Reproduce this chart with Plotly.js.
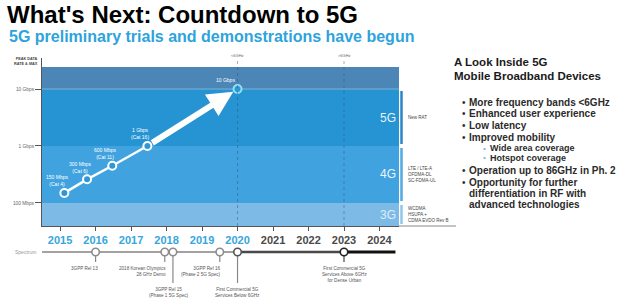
<!DOCTYPE html>
<html><head><meta charset="utf-8">
<script src="https://cdn.plot.ly/plotly-3.0.1.min.js"></script>
<style>html,body{margin:0;padding:0;background:#fff}#chart{width:617px;height:300px}</style>
</head><body><div id="chart"></div>
<script>
// ---------- data ----------
const techYears = [2015.12, 2015.76, 2016.47, 2017.46, 2020.0];
const techRatesGbps = [0.15, 0.26, 0.45, 1.0, 10.0];
const techLabels = ['150 Mbps<br>(Cat 4)', '300 Mbps<br>(Cat 6)', '600 Mbps<br>(Cat 11)', '1 Gbps<br>(Cat 16)', '10 Gbps'];

const bandNames = ['', '5G', '4G', '3G'];
const bandLowGbps = [10, 1, 0.1, 0.0394];
const bandHighGbps = [24.3, 10, 1, 0.1];
const bandTech = ['', 'New RAT', 'LTE / LTE-A<br>OFDMA-DL<br>SC-FDMA-UL', 'WCDMA<br>HSUPA +<br>CDMA EVDO Rev B'];

const yearTicks = [2015, 2016, 2017, 2018, 2019, 2020, 2021, 2022, 2023, 2024];
const yearLabels = ['2015', '2016', '2017', '2018', '2019', '2020', '2021', '2022', '2023', '2024'];
const rateTicks = [0.1, 1, 10];
const rateTickLabels = ['100 Mbps', '1 Gbps', '10 Gbps'];

const spectrumSplitYears = [2020, 2023];
const spectrumSplitLabels = ['&lt;6GHz', '&gt;6GHz'];

const milestoneYears = [2016.0, 2017.95, 2018.18, 2019.5, 2020.0, 2023.0];
const milestoneLabels = [
  '3GPP Rel 13',
  '2018 Korean Olympics<br>28 GHz Demo',
  '3GPP Rel 15<br>(Phase 1 5G Spec)',
  '3GPP Rel 16<br>(Phase 2 5G Spec)',
  'First Commercial 5G<br>Services Below 6GHz',
  'First Commercial 5G<br>Services Above 6GHz<br>for Dense Urban'
];

// ---------- styles / positions ----------
const FONT = 'Liberation Sans, Arial, sans-serif';
const W = 617, H = 300;
const PX = px => px / W;
const PY = py => 1 - py / H;
const PL = 42, PR = 399;
const bandColors = ['#4c86b6', '#2693d2', '#40a2df', '#7dbbe6'];
const barColors = ['', '#2c86c4', '#52a8e0', '#92c6ea'];
const msDrop = [10, 10, 31, 10, 31, 10];
const msAnchor = ['right', 'right', 'center', 'right', 'center', 'center'];
const msShift = [4, 3, -4, 3, 0, 0];
const msEdge = ['#8c8c8c', '#8c8c8c', '#8c8c8c', '#8c8c8c', '#555', '#222'];
const xRange = [2014.49, 2024.55];
const log = Math.log10;

const shapes = [];
const annotations = [];
const note = o => annotations.push(Object.assign({showarrow: false, xanchor: 'center', yanchor: 'middle'}, o));

// bands
bandNames.forEach((n, i) => {
  shapes.push({type: 'rect', layer: 'below', xref: 'paper', yref: 'y', x0: PX(PL), x1: PX(PR),
    y0: bandLowGbps[i], y1: bandHighGbps[i], fillcolor: bandColors[i], line: {width: 0}});
});
shapes.push({type: 'line', layer: 'below', xref: 'paper', yref: 'y', x0: PX(PL), x1: PX(PR),
  y0: bandLowGbps[0], y1: bandLowGbps[0], line: {color: 'rgba(255,255,255,0.35)', width: 1}});

// right bars + descriptions
const gap = Math.pow(10, 2 / 57);
bandNames.forEach((n, i) => {
  if (!n) return;
  shapes.push({type: 'line', xref: 'paper', yref: 'y', x0: PX(401.5), x1: PX(401.5),
    y0: bandLowGbps[i] * gap, y1: bandHighGbps[i] / gap, line: {color: barColors[i], width: 2.5}});
  const mid = Math.sqrt(bandLowGbps[i] * bandHighGbps[i]);
  note({xref: 'paper', yref: 'y', x: PX(388), y: log(mid), text: n,
    font: {family: FONT, size: 12, color: i === 3 ? 'rgba(255,255,255,0.75)' : 'rgba(255,255,255,0.92)'}});
  note({xref: 'paper', yref: 'y', x: PX(406), y: log(mid), xanchor: 'left', align: 'left',
    text: bandTech[i], font: {family: FONT, size: 4.5, color: '#444'}});
});
shapes.push({type: 'line', xref: 'paper', yref: 'paper', x0: PX(PR), x1: PX(456), y0: PY(226), y1: PY(226),
  line: {color: '#888', width: 1}});

// spectrum split dotted lines
spectrumSplitYears.forEach((yr, i) => {
  shapes.push({type: 'line', xref: 'x', yref: 'paper', x0: yr, x1: yr, y0: PY(226), y1: PY(60),
    line: {color: 'rgba(50,80,120,0.45)', width: 1, dash: 'dot'}});
  note({xref: 'x', yref: 'paper', x: yr, y: PY(55), text: spectrumSplitLabels[i],
    font: {family: FONT, size: 4, color: '#666'}});
});

// tech labels
techYears.forEach((yr, i) => {
  const last = i === techYears.length - 1;
  note({xref: 'x', yref: 'y', x: yr, y: log(techRatesGbps[i]), text: techLabels[i],
    xshift: last ? -12 : -7, yshift: last ? 9 : 12, font: {family: FONT, size: 5, color: '#ffffff'}});
});
// arrow 1 Gbps -> 10 Gbps
annotations.push({xref: 'x', yref: 'y', axref: 'x', ayref: 'y',
  x: techYears[4], y: log(techRatesGbps[4]), ax: techYears[3], ay: log(techRatesGbps[3]),
  text: '', showarrow: true, arrowhead: 2, arrowsize: 0.85, arrowwidth: 6, arrowcolor: '#ffffff',
  standoff: 5, startstandoff: 4});

// timeline segments
const segs = [[xRange[0], spectrumSplitYears[0], '#a2a2a2', 2], [spectrumSplitYears[0], spectrumSplitYears[1], '#4a4a4a', 2.5], [spectrumSplitYears[1], 2024.45, '#111', 3]];
segs.forEach(s => shapes.push({type: 'line', layer: 'below', xref: 'x', yref: 'y2', x0: s[0], x1: s[1], y0: 0, y1: 0,
  line: {color: s[2], width: s[3]}}));
milestoneYears.forEach((yr, i) => {
  shapes.push({type: 'line', layer: 'below', xref: 'x', yref: 'y2', x0: yr, x1: yr, y0: 0, y1: -msDrop[i],
    line: {color: msEdge[i] === '#222' ? '#444' : '#888', width: 1.2}});
  note({xref: 'x', yref: 'y2', x: yr, y: -msDrop[i] - 2, yanchor: 'top', xanchor: msAnchor[i],
    align: msAnchor[i] === 'right' ? 'right' : 'center', xshift: msShift[i], text: milestoneLabels[i],
    font: {family: FONT, size: 4.6, color: '#555'}});
});
note({xref: 'paper', yref: 'paper', x: PX(38), y: PY(252), xanchor: 'right', text: 'Spectrum',
  font: {family: FONT, size: 5, color: '#999'}});

// axis heading
note({xref: 'paper', yref: 'paper', x: PX(40), y: PY(61), xanchor: 'right', align: 'right',
  text: 'PEAK DATA<br>RATE &amp; MAX', font: {family: FONT, size: 3.8, color: '#444', weight: 'bold'}});

// subtitle
note({xref: 'paper', yref: 'paper', x: PX(7), y: PY(36), xanchor: 'left', text: '5G preliminary trials and demonstrations have begun',
  font: {family: FONT, size: 16, color: '#2ea3dc', weight: 'bold'}});

// right panel
const panelHead = ['A Look Inside 5G', 'Mobile Broadband Devices'];
const panelHeadY = [62, 76];
panelHead.forEach((t, i) => note({xref: 'paper', yref: 'paper', x: PX(452), y: PY(panelHeadY[i]), xanchor: 'left',
  text: t, font: {family: FONT, size: 11.5, color: '#1a1a1a', weight: 'bold'}}));
const panelItems = [
  [1, 'More frequency bands &lt;6GHz', 102], [1, 'Enhanced user experience', 113], [1, 'Low latency', 125],
  [1, 'Improved mobility', 137], [2, 'Wide area coverage', 148], [2, 'Hotspot coverage', 158],
  [1, 'Operation up to 86GHz in Ph. 2', 170], [1, 'Opportunity for further', 182], [0, 'differentiation in RF with', 193],
  [0, 'advanced technologies', 204]
];
panelItems.forEach(it => {
  const lvl = it[0];
  const tx = lvl === 2 ? 488 : 467;
  note({xref: 'paper', yref: 'paper', x: PX(tx), y: PY(it[2]), xanchor: 'left', text: it[1],
    font: {family: FONT, size: lvl === 2 ? 9 : 10, color: '#2b2b2b', weight: 'bold'}});
  if (lvl > 0) note({xref: 'paper', yref: 'paper', x: PX(lvl === 2 ? 484 : 463.5), y: PY(it[2]), text: '•',
    font: {family: FONT, size: lvl === 2 ? 8 : 10, color: lvl === 2 ? '#7fb7de' : '#2b2b2b'}});
});

const ticktext = yearLabels.map((t, i) => `<span style="color:${yearTicks[i] <= 2020 ? '#36a6dc' : '#4a4a4a'}">${t}</span>`);

const traces = [
  {x: techYears.slice(0, 4), y: techRatesGbps.slice(0, 4), xaxis: 'x', yaxis: 'y', mode: 'lines',
    line: {color: '#ffffff', width: 2.5}, hoverinfo: 'skip'},
  {x: techYears, y: techRatesGbps, xaxis: 'x', yaxis: 'y', mode: 'markers',
    marker: {symbol: 'circle', size: 8, color: '#2f97d5', line: {width: 2, color: ['#fff', '#fff', '#fff', '#fff', '#8de3f3']}}},
  {x: milestoneYears, y: milestoneYears.map(() => 0), xaxis: 'x', yaxis: 'y2', mode: 'markers',
    marker: {symbol: 'circle', size: 7.5, color: '#fff', line: {width: 1.6, color: msEdge}}}
];

const layout = {
  width: W, height: H, margin: {l: 0, r: 0, t: 0, b: 0},
  paper_bgcolor: '#fff', plot_bgcolor: '#fff', showlegend: false,
  title: {text: "What's Next: Countdown to 5G", x: PX(7), xanchor: 'left', y: PY(15), yanchor: 'middle',
    font: {family: FONT, size: 24, color: '#000', weight: 'bold'}},
  xaxis: {domain: [PX(PL), PX(PR)], range: xRange, anchor: 'y', tickvals: yearTicks, ticktext: ticktext,
    ticks: 'outside', ticklen: 4, tickcolor: '#555', showline: true, linecolor: '#555', linewidth: 1,
    showgrid: false, zeroline: false, tickfont: {family: FONT, size: 11, weight: 'bold'}, fixedrange: true},
  yaxis: {domain: [1 - 226 / H, 1 - 58 / H], type: 'log', range: [-1.404, 1.544], tickvals: rateTicks, ticktext: rateTickLabels,
    ticks: 'outside', ticklen: 6, tickcolor: '#555', showline: true, linecolor: '#555', linewidth: 1,
    showgrid: false, zeroline: false, tickfont: {family: FONT, size: 4.8, color: '#666'}, fixedrange: true},
  yaxis2: {domain: [0, 1 - 226 / H], range: [-48, 26], visible: false, anchor: 'x', fixedrange: true},
  shapes: shapes, annotations: annotations
};

Plotly.newPlot('chart', traces, layout, {displayModeBar: false, staticPlot: true});
</script></body></html>
